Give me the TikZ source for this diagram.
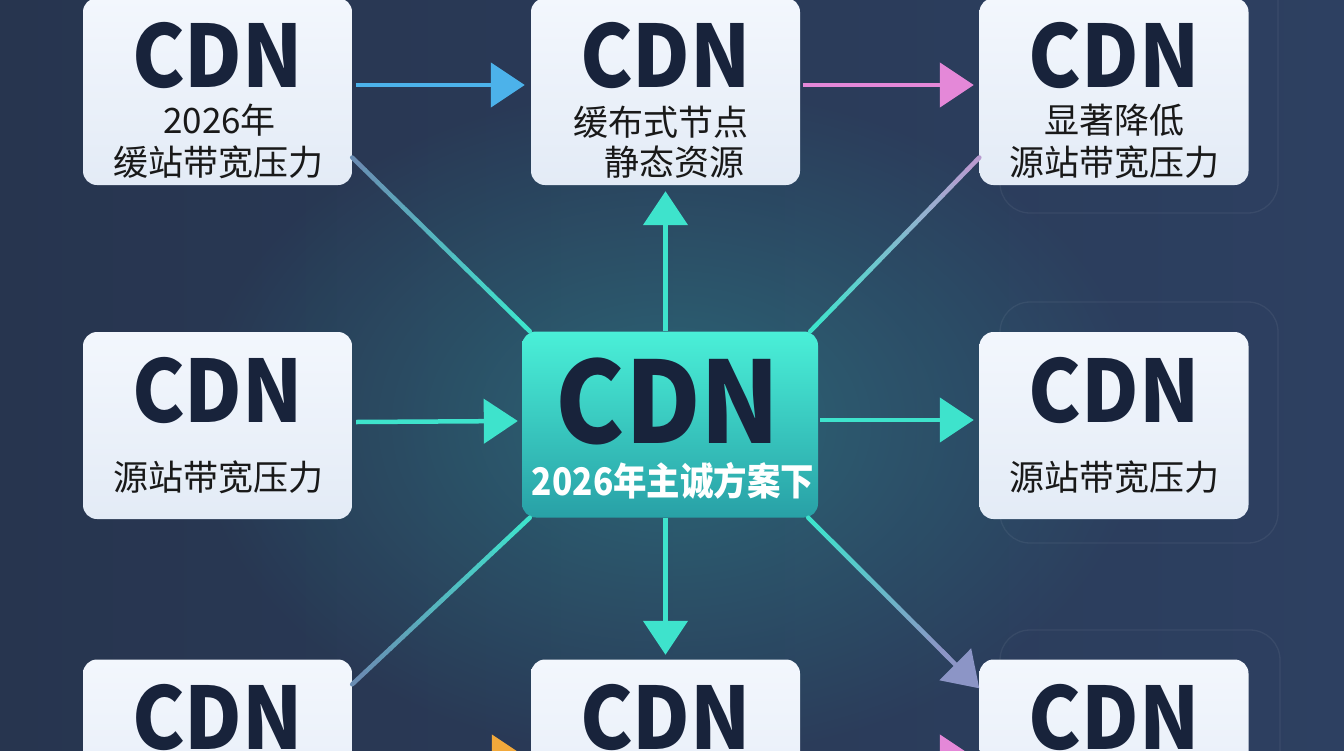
\documentclass[tikz,border=0pt]{standalone}
\usepackage{fontspec}
\newfontfamily\cjk{Noto Sans CJK SC}
\newfontfamily\cjknarrow{Noto Sans CJK SC}[FakeStretch=0.88]
\newfontfamily\cdnfont{Noto Sans CJK SC}[FakeStretch=0.92]
\usetikzlibrary{arrows.meta,calc,fadings}
\definecolor{bgA}{HTML}{27354F}
\definecolor{bgB}{HTML}{2D4061}
\definecolor{glowc}{HTML}{2F8A90}
\definecolor{boxtop}{HTML}{F3F7FD}
\definecolor{boxbot}{HTML}{E3EBF6}
\definecolor{ink}{HTML}{18233B}
\definecolor{aqua}{HTML}{3EE3CC}
\definecolor{skyb}{HTML}{4CB2EA}
\definecolor{pinkc}{HTML}{E488D8}
\definecolor{lav}{HTML}{8C95C6}
\definecolor{slate}{HTML}{6A8DB3}
\definecolor{lavpink}{HTML}{B99BD0}
\definecolor{orangec}{HTML}{F2A93B}
\definecolor{ctop}{HTML}{4AF0D8}
\definecolor{cbot}{HTML}{28A0A6}
\tikzfading[name=glowfade, inner color=transparent!45, outer color=transparent!100]
\newcommand\mygradline[5]{%
  \foreach \i in {0,...,13}{%
    \pgfmathsetmacro\ta{#5*\i/14}%
    \pgfmathsetmacro\tb{#5*(\i+1)/14}%
    \pgfmathtruncatemacro\pc{100-\i*100/13}%
    \draw[link, line cap=round, draw=#3!\pc!#4] ($(#1)!\ta!(#2)$) -- ($(#1)!\tb!(#2)$);
  }}
\begin{document}
\begin{tikzpicture}[x=1pt,y=-1pt,
  card/.style={rectangle, rounded corners=14pt, minimum width=269pt, minimum height=187pt, top color=boxtop, bottom color=boxbot, draw=none, inner sep=0pt},
  hub/.style={rectangle, rounded corners=14pt, minimum width=296pt, minimum height=186pt, top color=ctop, bottom color=cbot, draw=none, inner sep=0pt},
  big/.style={inner sep=0pt, text=ink, font=\cdnfont\bfseries\fontsize{86}{86}\selectfont},
  huge/.style={inner sep=0pt, text=ink, font=\cdnfont\bfseries\fontsize{113}{113}\selectfont},
  sub/.style={inner sep=0pt, text=black!90, font=\cjk\fontsize{35}{35}\selectfont},
  hubsub/.style={inner sep=0pt, text=white, font=\cjknarrow\bfseries\fontsize{38}{38}\selectfont},
  link/.style={line width=4.5pt},
  head/.style={-{Triangle[length=34pt,width=44pt]}},
  frame/.style={draw=white, draw opacity=0.06, line width=1.3pt, rounded corners=30pt}
]
\useasboundingbox (0,0) rectangle (1344,750);
\shade[left color=bgA, right color=bgB] (0,0) rectangle (1344,750);
\fill[glowc, path fading=glowfade] (669,423) ellipse (480 and 340);

% faint frames
\draw[frame] (1000,-40) rectangle (1278,213);
\draw[frame] (1000,302) rectangle (1278,543);
\draw[frame] (1000,630) rectangle (1280,800);

% boxes
\node[card] (TL) at (217.5,91.5) {};
\node[card] (TM) at (665.5,91.5) {};
\node[card] (TR) at (1114,91.5) {};
\node[card] (ML) at (217.5,425.5) {};
\node[card] (MR) at (1114,425.5) {};
\node[card] (BL) at (217.5,753) {};
\node[card] (BM) at (665.5,753) {};
\node[card] (BR) at (1114,753) {};
\node[hub] (C) at (670,424.5) {};

% texts
\node[big] (TLa) at ($(TL.north)+(0,58)$) {CDN};
\node[sub] (TLb) at ($(TL.north)+(2,122)$) {2026年};
\node[sub] (TLc) at ($(TL.north)+(1,164)$) {缓站带宽压力};
\node[big] (TMa) at ($(TM.north)+(0,58)$) {CDN};
\node[sub] (TMb) at ($(TM.north)+(-5,124)$) {缓布式节点};
\node[sub] (TMc) at ($(TM.north)+(9,164)$) {静态资源};
\node[big] (TRa) at ($(TR.north)+(0,58)$) {CDN};
\node[sub] (TRb) at ($(TR.north)+(0,122)$) {显著降低};
\node[sub] (TRc) at ($(TR.north)+(0,164)$) {源站带宽压力};
\node[big] (MLa) at ($(ML.north)+(0,59)$) {CDN};
\node[sub] (MLb) at ($(ML.north)+(1,145)$) {源站带宽压力};
\node[big] (MRa) at ($(MR.north)+(0,59)$) {CDN};
\node[sub] (MRb) at ($(MR.north)+(0,145)$) {源站带宽压力};
\node[big] (BLa) at ($(BL.north)+(0,58)$) {CDN};
\node[big] (BMa) at ($(BM.north)+(0,58)$) {CDN};
\node[big] (BRa) at ($(BR.north)+(0,58)$) {CDN};
\node[huge] (Ca) at ($(C.north)+(-2,70)$) {CDN};
\node[hubsub] (Cb) at ($(C.north)+(3,150)$) {2026年主诚方案下};

% connector end points
\coordinate (a1) at ([yshift=-66pt]TL.east);
\coordinate (a2) at ([xshift=8pt]C.north west);
\coordinate (b1) at ([xshift=-8pt]C.north east);
\coordinate (b2) at ([yshift=-66pt]TR.west);
\coordinate (c1) at ([xshift=8pt]C.south west);
\coordinate (c2) at ([yshift=-25pt]BL.north east);
\coordinate (d1) at ([xshift=-10pt]C.south east);
\coordinate (d2) at ([yshift=-29pt]BR.north west);

% gradient diagonal lines
\mygradline{a1}{a2}{slate}{aqua}{1}
\mygradline{b1}{b2}{aqua}{lavpink}{1}
\mygradline{c1}{c2}{aqua}{slate}{1}
\mygradline{d1}{d2}{aqua}{lav}{0.82}
\draw[link, lav, head] ($(d1)!0.78!(d2)$) -- (d2);

% straight arrows
\draw[link, skyb, head] ([shift={(4pt,6.5pt)}]TL.east) -- ([shift={(-6pt,6.5pt)}]TM.west);
\draw[link, pinkc, head] ([shift={(3pt,6.5pt)}]TM.east) -- ([shift={(-5.5pt,6.5pt)}]TR.west);
\draw[link, aqua, head] ([shift={(4pt,3.5pt)}]ML.east) -- ([shift={(-4pt,3.5pt)}]C.west);
\draw[link, aqua, head] ([shift={(2pt,4.5pt)}]C.east) -- ([shift={(-5.5pt,5.5pt)}]MR.west);
\draw[link, aqua, head] (C.north -| TM.south) -- ([yshift=-6pt]TM.south);
\draw[link, aqua, head] (C.south -| BM.north) -- ([yshift=4.5pt]BM.north);
\draw[link, orangec, head] ([shift={(4pt,-4pt)}]BL.east) -- ([shift={(-5pt,-4pt)}]BM.west);
\draw[link, pinkc, head] ([shift={(3pt,-4pt)}]BM.east) -- ([shift={(-5.5pt,-4pt)}]BR.west);
\end{tikzpicture}
\end{document}
